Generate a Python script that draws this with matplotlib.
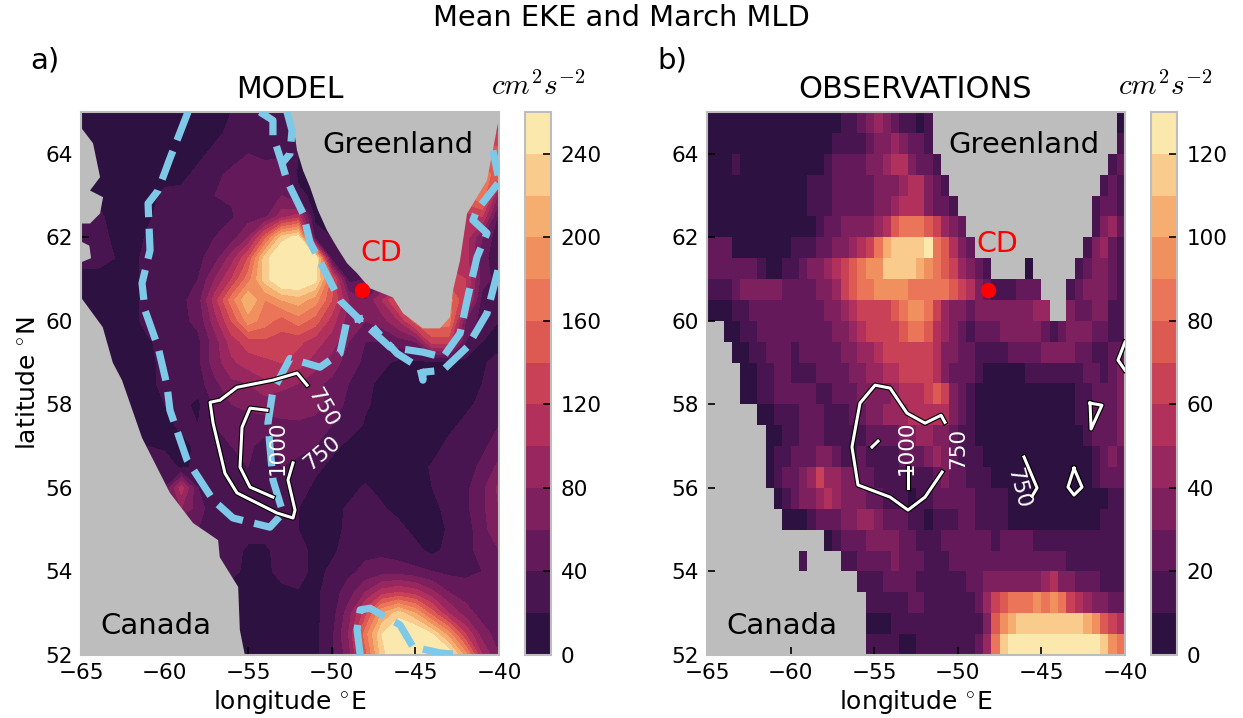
import numpy as np
import matplotlib
matplotlib.use("Agg")
import matplotlib.pyplot as plt
import matplotlib.patheffects as pe
from matplotlib.cm import ScalarMappable
from matplotlib.colors import BoundaryNorm, ListedColormap

plt.rcParams['mathtext.fontset'] = 'cm'

band_colors = ['#2d1140', '#491550', '#641a5a', '#7e1f5e', '#98265f', '#b1305c', '#c84157',
               '#dc5a52', '#ea7558', '#f1905f', '#f6ad70', '#f9cb8c', '#fbe8ac']
land_color = '#bdbdbd'
blue = '#7ec8e8'

# model EKE, 1 deg lon (-65..-40), 0.5 deg lat (52..65)
model_lon = np.arange(-65, -39, 1)
model_lat = np.arange(52, 65.5, 0.5)
model_eke = np.array([
    [10,10,10,10,10, 10,10,10,10,10, 10,10,10,15,15, 35,70,150,230,270, 270,270,260,190,100, 60],
    [10,10,10,10,10, 10,10,10,10,10, 10,10,10,15,15, 35,80,170,240,270, 270,240,190,120,70, 50],
    [10,10,10,10,10, 10,10,10,10,10, 15,12,12,15,15, 30,70,130,200,230, 200,150,100,70,50, 45],
    [10,10,10,10,10, 10,10,10,10,10, 15,12,12,18,15, 30,50,80,110,120, 110,85,60,50,45, 45],
    [10,10,10,10,10, 10,10,10,10,25, 15,12,30,30,12, 25,35,45,50,50, 45,40,35,35,40, 50],
    [10,10,10,10,10, 10,10,10,25,30, 15,15,30,30,12, 15,30,35,35,30, 25,15,25,30,50, 60],
    [10,10,10,10,10, 10,10,40,30,35, 30,30,30,20,12, 12,25,30,28,25, 15,12,22,28,55, 70],
    [10,10,10,10,10, 40,80,50,25,35, 35,40,30,20,12, 15,22,25,22,15, 15,15,25,35,55, 80],
    [10,10,10,10,10, 40,110,40,20,35, 25,40,40,30,15, 15,15,22,15,12, 15,20,25,35,55, 85],
    [10,10,10,10,35, 35,15,25,35,30, 40,25,40,35,25, 15,12,12,12,12, 12,22,28,30,45, 65],
    [10,10,10,10,20, 15,12,25,35,40, 45,30,45,45,40, 25,15,12,12,12, 12,12,25,28,35, 50],
    [10,10,10,15,12, 12,25,20,40,50, 50,50,55,55,50, 40,30,18,12,12, 12,12,15,25,28, 40],
    [10,10,10,12,12, 20,25,15,45,60, 65,70,70,75,70, 50,35,22,15,12, 12,12,15,15,25, 40],
    [10,10,12,12,15, 25,25,30,55,75, 80,95,85,80,65, 55,40,25,15,12, 12,12,12,15,20, 30],
    [10,10,10,12,15, 25,30,35,70,95, 110,115,120,110,90, 70,50,35,25,15, 15,15,12,15,18, 25],
    [10,10,10,12,18, 25,30,35,70,110, 130,135,130,125,110, 90,60,40,40,50, 60,130,130,40,20, 15],
    [10,10,12,15,25, 30,35,45,90,140, 190,170,150,170,150, 110,70,60,70,100, 150,170,170,60,30, 20],
    [10,12,15,15,25, 30,35,50,110,170, 220,180,200,210,190, 140,80,60,100,150, 170,170,170,120,30, 30],
    [15,15,15,15,25, 30,32,40,80,120, 170,230,270,270,250, 150,30,40,40,40, 100,120,130,120,50, 30],
    [25,25,20,15,25, 30,30,35,50,90, 140,230,270,270,270, 30,20,30,30,30, 100,110,110,110,45, 30],
    [25,30,15,12,22, 28,28,30,40,50, 80,150,230,250,30, 20,20,20,20,20, 80,100,100,110,60, 25],
    [20,25,12,12,18, 25,35,28,35,38, 50,55,90,110,15, 20,15,15,15,15, 60,80,100,110,120, 30],
    [12,12,10,10,12, 25,25,35,40,42, 42,50,60,25,15, 15,15,15,15,15, 120,130,140,160,180, 70],
    [10,10,10,10,10, 12,15,25,35,45, 55,50,60,15,15, 15,15,15,15,15, 140,140,150,160,170, 150],
    [10,10,10,10,10, 10,12,15,25,30, 40,35,35,20,15, 15,15,15,15,15, 150,150,150,150,150, 150],
    [10,10,10,10,10, 10,10,12,15,25, 30,20,25,20,15, 15,15,15,15,15, 120,120,120,120,120, 120],
    [10,10,10,10,10, 10,10,12,12,20, 25,25,20,15,15, 15,15,15,15,15, 120,120,120,120,120, 120],
])

# observed EKE, 0.5 deg cells, 0 = land
obs_lon_edges = np.arange(-65, -39.5, 0.5)
obs_lat_edges = np.arange(52, 65.5, 0.5)
obs_eke = np.array([
    [0,0,0,0,0,0,0,0,0,0, 0,0,0,0,0,0,0,0,0,15, 15,15,15,5,5,15,15,15,15,15, 15,15,25,45,80,110,120,130,130,130, 130,130,130,130,130,130,130,110,90,80],
    [0,0,0,0,0,0,0,0,0,0, 0,0,0,0,0,0,0,0,0,5, 5,5,15,15,15,15,15,15,15,15, 15,15,15,35,70,90,100,110,110,110, 115,115,115,110,110,100,90,70,60,50],
    [0,0,0,0,0,0,0,0,0,0, 0,0,0,0,0,0,0,0,0,15, 15,15,15,15,25,25,15,15,15,15, 15,15,25,45,65,75,80,85,85,90, 85,90,80,65,55,45,35,30,25,25],
    [0,0,0,0,0,0,0,0,0,0, 0,0,0,0,0,0,0,0,15,15, 15,25,25,25,25,15,15,15,15,15, 15,25,25,35,35,35,35,35,35,35, 45,55,35,35,25,25,25,15,15,15],
    [0,0,0,0,0,0,0,0,0,0, 0,15,0,0,0,0,15,15,25,25, 25,25,35,25,25,25,15,15,15,25, 25,25,25,25,25,25,25,25,25,25, 25,25,25,15,15,15,15,15,15,15],
    [0,0,0,0,0,0,0,0,0,0, 0,0,0,0,5,15,25,25,25,35, 35,35,35,25,25,15,15,15,25,25, 25,25,25,25,15,25,25,25,25,15, 15,15,15,15,15,15,15,15,15,15],
    [0,0,0,0,0,0,0,0,0,5, 5,5,15,25,25,25,35,35,45,45, 35,25,25,25,15,15,5,15,15,15, 25,25,15,15,15,15,5,5,5,5, 5,5,5,5,5,5,5,15,15,15],
    [0,0,0,0,0,0,0,0,5,15, 25,35,35,45,55,45,35,35,35,25, 25,15,15,15,5,15,15,25,25,25, 25,25,15,15,15,15,5,5,5,5, 5,5,5,5,5,5,5,5,15,15],
    [0,0,0,0,0,0,0,5,15,25, 25,35,45,65,45,45,35,35,25,25, 15,15,15,15,15,15,15,25,35,25, 25,15,15,15,5,5,5,5,5,5, 5,5,5,5,5,5,15,25,25,25],
    [0,0,0,0,0,0,0,5,15,15, 25,25,25,35,35,25,15,15,25,15, 15,15,15,25,25,25,35,45,35,25, 15,15,15,5,5,5,5,5,5,5, 5,5,5,5,5,5,15,25,35,25],
    [0,0,0,0,0,0,0,5,5,15, 15,25,25,25,15,15,15,15,15,25, 25,25,25,35,35,45,45,35,35,25, 15,15,5,5,5,5,5,5,5,5, 5,5,5,5,5,15,25,25,25,35],
    [0,0,0,0,0,0,5,5,15,15, 15,25,25,25,15,15,15,25,25,35, 35,45,45,45,55,55,55,55,55,35, 25,15,5,5,5,5,5,5,5,5, 5,5,5,5,15,15,25,25,25,35],
    [0,0,0,0,5,5,15,15,25,25, 25,25,25,15,15,25,25,25,35,35, 35,35,45,55,55,55,65,70,65,35, 25,15,5,5,5,5,5,5,5,5, 5,5,5,5,15,15,25,25,25,35],
    [0,0,0,0,5,5,15,15,25,25, 15,15,15,25,25,25,25,35,35,45, 45,55,55,65,65,65,65,55,35,25, 25,25,15,5,5,5,5,5,15,15, 15,15,15,15,15,25,25,15,25,35],
    [0,0,0,5,5,15,15,25,25,25, 15,25,25,25,25,25,35,35,45,45, 55,65,65,65,65,65,65,55,35,35, 25,25,15,15,15,15,25,25,25,25, 35,35,35,35,25,25,15,15,25,25],
    [0,0,5,5,15,15,25,25,25,25, 25,25,25,25,25,35,35,45,55,65, 65,65,65,75,85,85,75,55,45,35, 25,15,25,25,25,35,35,35,35,35, 25,15,25,35,35,35,25,25,15,15],
    [5,5,5,15,15,25,25,25,25,25, 25,25,25,25,35,35,45,55,65,65, 65,65,70,85,95,95,85,65,45,35, 35,25,35,35,35,35,35,35,35,45, 45,0,0,35,25,25,35,35,15,15],
    [15,15,15,25,35,35,35,35,35,25, 25,25,25,35,35,45,65,75,80,85, 95,95,95,90,85,85,80,80,80,75, 65,55,35,25,15,15,15,25,25,25, 0,0,0,15,25,35,35,35,25,15],
    [25,25,25,25,25,25,15,5,5,15, 15,25,35,35,45,55,65,75,85,90, 95,110,115,115,115,100,95,85,75,65, 45,35,25,15,0,0,0,0,5,0, 0,0,0,0,15,25,35,35,25,15],
    [25,25,25,5,5,5,5,5,5,5, 15,15,15,25,25,35,35,45,55,65, 85,100,110,115,115,115,125,85,75,55, 35,25,0,0,0,0,0,0,0,0, 0,0,0,0,0,15,35,45,25,15],
    [5,5,5,5,5,5,5,5,5,5, 5,5,5,15,25,25,35,35,35,35, 45,55,75,85,85,85,75,65,45,35, 25,0,0,0,0,0,0,0,0,0, 0,0,0,0,0,0,15,35,45,25],
    [5,5,5,5,5,5,5,5,5,5, 5,5,15,15,15,25,25,25,25,25, 35,35,45,55,55,55,35,25,25,15, 0,0,0,0,0,0,0,0,0,0, 0,0,0,0,0,0,15,25,25,15],
    [5,5,5,5,5,5,5,5,5,5, 5,5,15,15,15,25,25,25,25,25, 35,35,35,45,55,55,35,25,15,0, 0,0,0,0,0,0,0,0,0,0, 0,0,0,0,0,0,0,15,25,15],
    [5,5,5,15,5,5,5,5,5,5, 5,5,5,5,15,25,25,25,25,35, 35,45,55,55,35,25,25,15,0,0, 0,0,0,0,0,0,0,0,0,0, 0,0,0,0,0,0,0,0,15,25],
    [5,5,5,5,5,5,5,5,5,5, 5,5,5,5,5,15,15,15,15,25, 35,35,45,35,25,25,15,0,0,0, 0,0,0,0,0,0,0,0,0,0, 0,0,0,0,0,0,0,0,0,15],
    [5,5,5,5,5,5,5,5,5,5, 5,5,5,5,5,5,15,15,25,35, 45,35,25,15,15,5,15,0,0,0, 0,0,0,0,0,0,0,0,0,0, 0,0,0,0,0,0,0,0,0,5],
])
obs_eke = np.ma.masked_equal(obs_eke, 0)

# land outlines for the model panel
canada = [(-65,52),(-55.2,52),(-55.5,52.6),(-55.6,53.63),(-56.7,54.34),(-56.8,54.75),(-58.3,55.16),
          (-59.68,55.88),(-61.35,57.2),(-62.55,58.58),(-63.1,59),(-63.7,59.85),(-65,60.56)]
baffin = [(-65,64.63),(-64.28,64.25),(-63.86,63.44),(-64.46,63.12),(-63.68,62.96),(-63.86,62.57),(-64.46,62.33),(-65,62.33)]
baffin2 = [(-65,61.9),(-64.5,61.8),(-64.4,61.5),(-65,61.4)]
greenland = [(-52.68,65),(-52.32,64.73),(-52.08,64.08),(-51.72,63.6),(-51.3,63.2),(-50.83,62.65),(-50.29,62.17),
             (-49.69,61.76),(-49.09,61.38),(-48.49,61.14),(-47.72,60.78),(-46.34,60.56),(-45.74,60.18),(-44.55,59.82),
             (-43.53,59.82),(-42.93,60.09),(-42.75,60.73),(-42.33,61.45),(-41.91,62.57),(-40.72,63.36),(-40.06,64.73),(-40.06,65)]

# March MLD contours, model
mld_outer = [(-58.6,65),(-59.68,63.89),(-60.39,63.12),(-60.99,62.81),(-60.87,61.69),(-61.35,60.9),(-61.17,60.25),
             (-60.39,59.37),(-59.86,58.46),(-59.68,57.86),(-58.66,56.67),(-57.1,55.71),(-55.91,55.28),(-53.7,55.06),
             (-52.92,55.4),(-53.52,56.19),(-53.82,57.55),(-53.52,58.34),(-53.28,58.51),(-52.5,59.1),(-50.71,58.89),
             (-49.51,59.22),(-49.09,60.01),(-48.13,60.06)]
mld_shelf = [(-54.3,65),(-53.52,64.8),(-53.52,64.44),(-52.98,63.77),(-52.68,63.36),(-51.72,62.57),(-51.3,61.88),
             (-49.51,60.49),(-48.49,60.09),(-46.52,59.37),(-44.55,59.25),(-43.35,59.13),(-42.33,59.7),(-41.91,60.49),
             (-41.32,61.52),(-40.72,62.1),(-41.56,62.41),(-41.32,62.65),(-40.06,63.29)]
mld_east = [(-40.06,61.21),(-40.72,60.18),(-41.91,59.37),(-43.35,58.82),(-44.55,58.77),(-44.55,58.58),(-44.72,58.87),
            (-46.1,59.22),(-47.54,59.85)]
mld_top = [(-52.68,65),(-52.38,64.56),(-52.5,64.0),(-52.98,63.77)]
mld_corner = [(-40.36,64.08),(-40.06,63.48)]
mld_south = [(-48.3,52),(-48.49,52.6),(-48.3,53.08),(-47.72,53.12),(-45.92,52.72),(-45.14,52.19),(-43.53,52.05),(-42.15,52)]
model_blue = [mld_outer, mld_shelf, mld_east, mld_top, mld_corner, mld_south]

model_750 = [(-51.48,58.46),(-52.08,58.75),(-53.52,58.58),(-55.67,58.41),(-56.69,58.1),(-57.28,58.05),(-57.1,57.55),
             (-56.39,56.35),(-55.67,55.88),(-53.28,55.4),(-52.32,55.28),(-52.2,55.47),(-52.62,56.19),(-52.32,56.6)]
model_1000 = [(-53.88,57.86),(-54.89,57.91),(-55.37,57.45),(-55.49,56.5),(-54.89,56.02),(-53.52,55.78)]
model_white = [model_750, model_1000]

obs_750 = [(-50.77,57.57),(-51.0,57.74),(-51.96,57.55),(-53.04,57.79),(-54.05,58.39),(-54.95,58.46),(-55.85,58.03),
           (-56.33,56.98),(-55.97,56.07),(-54.05,55.78),(-52.98,55.47),(-51.96,55.78),(-50.94,56.38)]
obs_1000a = [(-55.13,56.98),(-54.77,57.12)]
obs_1000b = [(-52.98,56.5),(-52.98,56.0)]
obs_east = [(-46.04,56.74),(-45.26,56.0),(-45.56,55.8)]
obs_diamond = [(-43.05,56.47),(-43.41,56.02),(-43.05,55.83),(-42.57,56.02),(-43.05,56.47)]
obs_triangle = [(-42.09,58.03),(-41.38,57.98),(-42.03,57.41),(-42.09,58.03)]
obs_edge = [(-40,59.49),(-40.42,59.06),(-40,58.82)]
obs_white = [obs_750, obs_1000a, obs_1000b, obs_east, obs_diamond, obs_triangle, obs_edge]

cape_desolation = (-48.2, 60.73)
model_levels = np.arange(0, 280, 20)
obs_levels = np.arange(0, 140, 10)
model_ticks = np.arange(0, 280, 40)
obs_ticks = np.arange(0, 140, 20)
lon_ticks = np.arange(-65, -35, 5)
lat_ticks = np.arange(52, 66, 2)

W, H = 1243.0, 718.0

def add_axes_px(left, top, right, bottom):
    return fig.add_axes([left / W, 1 - bottom / H, (right - left) / W, (bottom - top) / H])

def style_axes(ax):
    ax.set_xlim(-65, -40)
    ax.set_ylim(52, 65)
    ax.set_xticks(lon_ticks)
    ax.set_yticks(lat_ticks)
    ax.tick_params(direction='in', length=6, width=1.2, labelsize=15.5, pad=6, color='k')
    for s in ax.spines.values():
        s.set_color(land_color)
        s.set_linewidth(1.5)
    ax.set_xlabel(r'longitude $^{\circ}$E', fontsize=18, labelpad=3)

def add_colorbar(cax, norm, ticks):
    sm = ScalarMappable(norm=norm, cmap=cmap)
    cb = fig.colorbar(sm, cax=cax, ticks=ticks)
    cb.minorticks_off()
    cb.outline.set_edgecolor(land_color)
    cb.outline.set_linewidth(1.5)
    cb.ax.tick_params(direction='in', length=6, width=1.2, labelsize=15.5, pad=7)

def draw_white(ax, lines):
    for line in lines:
        x, y = zip(*line)
        ax.plot(x, y, color='white', lw=2.2, zorder=5, solid_joinstyle='round',
                path_effects=[pe.Stroke(linewidth=3.8, foreground='k'), pe.Normal()])

def label_map(ax, cd_xy):
    ax.text(-46.04, 64.22, 'Greenland', fontsize=21, ha='center', va='center', zorder=6)
    ax.text(-60.5, 52.7, 'Canada', fontsize=21, ha='center', va='center', zorder=6)
    ax.plot(*cape_desolation, 'o', color='red', ms=10, zorder=7)
    ax.text(cd_xy[0], cd_xy[1], 'CD', color='red', fontsize=20.5, ha='center', va='center', zorder=7)

fig = plt.figure(figsize=(W / 100, H / 100), dpi=100)
cmap = ListedColormap(band_colors)
cmap.set_over(band_colors[-1])
cmap.set_bad(land_color)

# panel a
ax1 = add_axes_px(81, 112, 499, 655)
norm1 = BoundaryNorm(model_levels, cmap.N)
ax1.contourf(model_lon, model_lat, model_eke, levels=model_levels, cmap=cmap, norm=norm1, extend='max')
for poly in [canada, baffin, baffin2, greenland]:
    ax1.fill(*zip(*poly), color=land_color, lw=0, zorder=2)
for line in model_blue:
    x, y = zip(*line)
    ax1.plot(x, y, color=blue, lw=5.2, ls=(0, (4.2, 1.6)), zorder=4)
draw_white(ax1, model_white)
for x, y, t, rot in [(-50.53, 57.91, '750', -60), (-50.59, 56.83, '750', 40), (-53.22, 56.95, '1000', 90)]:
    ax1.text(x, y, t, color='white', fontsize=15.5, rotation=rot, ha='center', va='center', zorder=6)
label_map(ax1, (-47.06, 61.62))
style_axes(ax1)
ax1.set_ylabel(r'latitude $^{\circ}$N', fontsize=18, labelpad=4)

# panel b
ax2 = add_axes_px(707, 112, 1125, 655)
ax2.set_facecolor(land_color)
norm2 = BoundaryNorm(obs_levels, cmap.N)
ax2.pcolormesh(obs_lon_edges, obs_lat_edges, obs_eke, cmap=cmap, norm=norm2)
draw_white(ax2, obs_white)
for x, y, t, rot in [(-53.04, 56.95, '1000', 90), (-49.99, 56.95, '750', 90), (-46.4, 56.0, '750', -75)]:
    ax2.text(x, y, t, color='white', fontsize=15.5, rotation=rot, ha='center', va='center', zorder=6)
label_map(ax2, (-47.66, 61.83))
style_axes(ax2)

add_colorbar(add_axes_px(525, 112, 551, 655), norm1, model_ticks)
add_colorbar(add_axes_px(1151, 112, 1177, 655), norm2, obs_ticks)

fig.text(621 / W, 1 - 18 / H, 'Mean EKE and March MLD', fontsize=20.8, ha='center', va='center')
fig.text(45 / W, 1 - 60 / H, 'a)', fontsize=21, ha='center', va='center')
fig.text(672 / W, 1 - 60 / H, 'b)', fontsize=21, ha='center', va='center')
fig.text(290 / W, 1 - 89 / H, 'MODEL', fontsize=21.5, ha='center', va='center')
fig.text(915 / W, 1 - 89 / H, 'OBSERVATIONS', fontsize=22, ha='center', va='center')
for cx in [538, 1165]:
    fig.text(cx / W, 1 - 86 / H, r'$cm^2s^{-2}$', fontsize=21, ha='center', va='center')

fig.savefig('out.png', dpi=100)
